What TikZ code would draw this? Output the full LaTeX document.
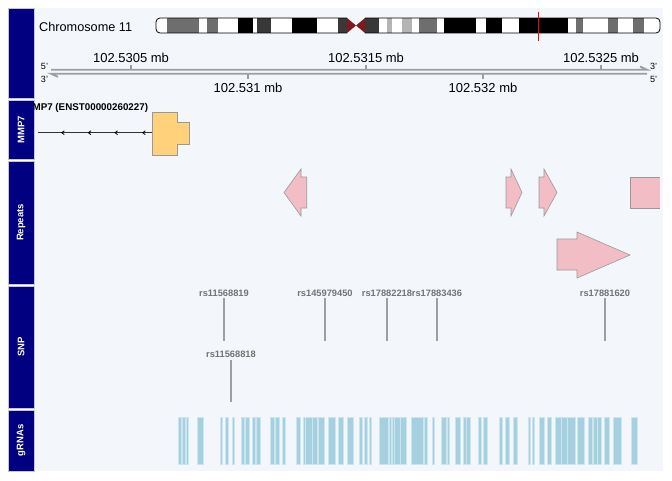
\documentclass[tikz,border=0pt]{standalone}
\usepackage{fontspec}
\setmainfont{Liberation Sans}
\definecolor{navyband}{RGB}{0,0,128}
\definecolor{panelbg}{RGB}{243,246,251}
\definecolor{bandg}{RGB}{110,110,110}
\definecolor{bandd}{RGB}{56,56,56}
\definecolor{bandl}{RGB}{180,180,180}
\definecolor{cenred}{RGB}{125,26,30}
\definecolor{exonfill}{RGB}{255,209,122}
\definecolor{repfill}{RGB}{242,189,197}
\definecolor{grna}{RGB}{164,208,224}

\begin{document}
\begin{tikzpicture}[x=1pt, y=-1pt, every node/.style={inner sep=0pt}]
\tikzset{ttl/.style={fill=navyband, draw=gray!45, line width=0.6pt},
  ttltext/.style={text=white, font=\fontsize{9.5}{10}\selectfont\bfseries, rotate=90},
  axline/.style={draw=black!38, line width=1.8pt},
  axtxt/.style={font=\fontsize{13}{14}\selectfont},
  endtxt/.style={font=\fontsize{9}{10}\selectfont},
  rep/.style={fill=repfill, draw=black!40, line width=0.6pt},
  snp/.style={draw=black!38, line width=1.8pt},
  snptxt/.style={text=black!55, font=\fontsize{9.3}{10}\selectfont\bfseries},
  grbar/.style={fill=grna, draw=grna!55, line width=0.5pt}}
\useasboundingbox (0,0) rectangle (672,480);
% --- panels and titles ---
\fill[panelbg] (34,8) rectangle (663,471);
\draw[ttl] (8,8) rectangle (34,98);
\foreach \top/\bot/\lab [count=\k] in {100/159/MMP7, 161/284/Repeats, 286/408/SNP, 410/471/gRNAs} {
  \draw[ttl] (8,\top) rectangle (34,\bot);
  \node[ttltext] (t\k) at (21,{(\top+\bot)/2}) {\lab};
}
% --- ideogram ---
\node[anchor=west, font=\fontsize{12.7}{14}\selectfont] (chr) at (39,26.5) {Chromosome 11};
\begin{scope}
  \clip[rounded corners=4pt] (156,18) rectangle (660,33);
  \fill[white] (156,18) rectangle (660,33);
  \foreach \a/\b/\c in {166.7/199.3/bandg, 207.3/218.3/bandg, 237.7/252.7/black, 256.7/270.7/bandd,
      291.7/316.7/black, 337.7/347/bandd, 365/379.3/bandd, 386.7/392.3/bandl, 401.7/411.7/bandl,
      419/437.3/bandg, 444.3/476/black, 486/502.3/black, 519/568.3/black, 576/583.3/bandg,
      608.3/618.3/bandg, 633.3/644.3/bandg}
    \fill[\c] (\a,18) rectangle (\b,33);
  \fill[panelbg] (347,17) rectangle (365,34);
  \fill[cenred] (347,18) -- (356,25.5) -- (347,33) -- cycle;
  \fill[cenred] (365,18) -- (356,25.5) -- (365,33) -- cycle;
\end{scope}
\draw[rounded corners=4pt, line width=0.8pt] (347,18) -- (156,18) -- (156,33) -- (347,33);
\draw[rounded corners=4pt, line width=0.8pt] (365,18) -- (660,18) -- (660,33) -- (365,33);
\draw[red, line width=1pt] (538,11.5) -- (538,41);
% --- axis ---
\draw[axline] (51,69.7) -- (647,69.7) -- (640,66.5);
\draw[axline] (647,73.7) -- (51,73.7) -- (58,76.9);
\foreach \x/\lab [count=\k] in {131/102.5305, 366/102.5315, 601/102.5325} {
  \draw[axline, line width=1.4pt] (\x,69.7) -- (\x,64.5);
  \node[axtxt] (up\k) at (\x,58.3) {\lab\ mb};
}
\foreach \x/\lab [count=\k] in {248/102.531, 483/102.532} {
  \draw[axline, line width=1.4pt] (\x,73.7) -- (\x,79);
  \node[axtxt] (lo\k) at (\x,88) {\lab\ mb};
}
\node[endtxt] (e1) at (44.5,66.5) {5'};
\node[endtxt] (e2) at (44.5,79) {3'};
\node[endtxt] (e3) at (653.5,66.5) {3'};
\node[endtxt] (e4) at (653.5,79) {5'};
% --- MMP7 ---
\begin{scope}
  \clip (34,100) rectangle (663,159);
  \node[anchor=base east, font=\fontsize{9.8}{10}\selectfont\bfseries] (tx) at (148.3,110) {MMP7 (ENST00000260227)};
\end{scope}
\draw[black!80, line width=0.8pt] (38,132.7) -- (152,132.7);
\foreach \x in {61.7,88.3,115,142.7}
  \draw[black, line width=0.8pt] (\x+2.6,130.8) -- (\x,132.7) -- (\x+2.6,134.6);
\draw[fill=exonfill, draw=black!40, line width=0.6pt] (152,112) -- (177,112) -- (177,122) -- (189,122)
  -- (189,144) -- (177,144) -- (177,155) -- (152,155) -- cycle;
% --- repeats ---
\draw[rep] (284,192.5) -- (301,169) -- (301,177) -- (306.7,177) -- (306.7,208) -- (301,208) -- (301,216) -- cycle;
\draw[rep] (506,177) -- (511,177) -- (511,169) -- (522,192.5) -- (511,216) -- (511,208) -- (506,208) -- cycle;
\draw[rep] (539,177) -- (544,177) -- (544,169) -- (557,192.5) -- (544,216) -- (544,208) -- (539,208) -- cycle;
\fill[repfill] (630,177) rectangle (660,208);
\draw[rep] (660,177) -- (630,177) -- (630,208) -- (660,208);
\draw[rep] (557,239) -- (577,239) -- (577,232) -- (630,255) -- (577,278) -- (577,270) -- (557,270) -- cycle;
% --- SNP ---
\foreach \x/\y/\id/\name in {224/293/a/rs11568819, 325/293/b/rs145979450, 387/293/c/rs17882218,
    437/293/d/rs17883436, 605/293/e/rs17881620, 231/354.5/f/rs11568818} {
  \node[snptxt] (s\id) at (\x,\y) {\name};
  \draw[snp] (\x,\y+5) -- (\x,\y+47.5);
}
% --- gRNAs ---
\foreach \a/\b in {178/181, 182.3/185.5, 185.8/188.7, 197.3/203, 220/222.3, 225/228, 232.3/234.7,
    241/244.5, 244.8/249, 252/255.5, 255.8/260.3, 270/274, 275.7/279.3, 282/285, 296.7/300.3,
    303.7/305.2, 305.5/312, 312.3/317, 318/324.3, 328/335, 338/343.7, 347.7/353.3, 359/362.7,
    364.7/367, 369/371, 379.3/388.3, 389/391, 392.3/394, 394.3/400, 400.3/406.7, 411.3/423, 424/427,
    432/434.7, 441/446, 447/449.7, 455/460.7, 463.3/466, 466.7/470.7, 478.3/481, 483.7/487,
    499.7/502, 505.3/509.7, 513/517.3, 528/530, 532/534.7, 539.3/544, 547/551.3, 555.3/561,
    561.3/567, 567.3/575, 577/584, 588.7/592.7, 593/597, 597.3/601.7, 604/609, 613/621, 631.3/637.7}
  \draw[grbar] (\a,417.3) rectangle (\b,464.3);
\end{tikzpicture}
\end{document}
